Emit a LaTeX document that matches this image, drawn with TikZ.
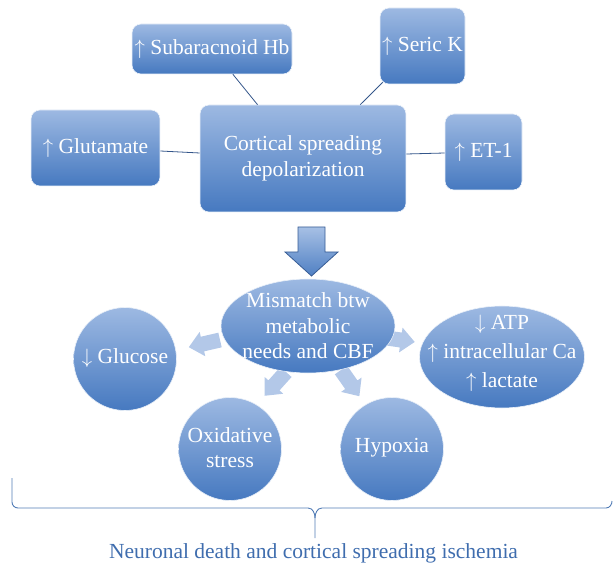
\documentclass[tikz,border=0pt]{standalone}
\usepackage{fontspec}
\setmainfont{Liberation Serif}
\usetikzlibrary{shapes.geometric,calc}
\definecolor{gtop}{HTML}{9DB9E2}
\definecolor{gbot}{HTML}{4679C0}
\definecolor{edgec}{HTML}{34568A}
\definecolor{bluetext}{HTML}{3F6DAE}
\definecolor{lightarr}{HTML}{B3C8E8}
\newcommand{\upar}{$\uparrow$\ }
\newcommand{\dnar}{$\downarrow$\ }
\tikzset{
  grad/.style={top color=gtop, bottom color=gbot, draw=white!80!gtop, line width=0.6pt, inner sep=0pt},
  txt/.style={text=white, align=center, inner sep=0pt, font=\fontsize{21.5}{25.5}\selectfont},
  boxnode/.style={grad, txt, rectangle, rounded corners=9pt},
  ellnode/.style={grad, ellipse},
  circnode/.style={grad, circle},
  link/.style={draw=edgec, line width=0.8pt},
  pics/blockarrow/.style={code={
    \fill[lightarr] (0,-7.5) -- (18,-7.5) -- (18,-12.5) -- (32,0) -- (18,12.5) -- (18,7.5) -- (0,7.5) -- cycle;}}
}
\begin{document}
\begin{tikzpicture}[x=1pt,y=-1pt]
\useasboundingbox (0,0) rectangle (613,569);

% top boxes
\node[boxnode, minimum width=160pt, minimum height=50pt] (sub) at (212,49) {\upar Subaracnoid Hb};
\node[boxnode, minimum width=85pt, minimum height=76pt] (seric) at (422.5,46) {\upar Seric K};
\node[boxnode, minimum width=129pt, minimum height=76pt] (glu) at (95.5,148) {\upar Glutamate};
\node[boxnode, minimum width=206pt, minimum height=107pt] (csd) at (303,158.5) {Cortical spreading\\depolarization};
\node[boxnode, minimum width=77pt, minimum height=76pt] (et) at (483.5,152) {\upar ET-1};

% connectors
\draw[link] ($(sub.south west)!0.63!(sub.south east)$) -- ($(csd.north west)!0.28!(csd.north east)$);
\draw[link] ($(seric.south west)+(3,-2)$) -- ($(csd.north west)!0.777!(csd.north east)$);
\draw[link] ($(glu.east)+(0,3)$) -- ($(csd.west)+(0,-5.5)$);
\draw[link] ($(csd.east)+(0,-4.5)$) -- ($(et.west)+(0,1)$);

% big arrow
\draw[top color=gtop!90, bottom color=gbot!95, draw=edgec!80!gbot, line width=0.8pt]
  (298,227) -- (325,227) -- (325,252) -- (338,252) -- (311.5,276) -- (285,252) -- (298,252) -- cycle;

% small arrows
\pic[rotate=193] at (220,340) {blockarrow};
\pic[rotate=-8] at (383,337.5) {blockarrow};
\pic[rotate=228] at (286,372) {blockarrow};
\pic[rotate=-55] at (341,370) {blockarrow};

% lower nodes (shapes)
\node[ellnode, minimum width=174pt, minimum height=94pt] (mis) at (308,326) {};
\node[circnode, minimum size=103pt] (glc) at (125,359) {};
\node[ellnode, minimum width=165pt, minimum height=102pt] (atp) at (502,357) {};
\node[circnode, minimum size=103pt] (ox) at (230,449) {};
\node[circnode, minimum size=103pt] (hyp) at (392,449) {};
% lower nodes (texts)
\node[txt] (mist) at (mis) {Mismatch btw\\metabolic\\needs and CBF};
\node[txt] (glct) at ($(glc)+(0,-1)$) {\dnar Glucose};
\node[txt] (atpt) at ($(atp)+(0,-4)$) {\dnar ATP\\[3.5pt]\upar intracellular Ca\\[3.5pt]\upar lactate};
\node[txt] (oxt) at ($(ox)+(0,-1.5)$) {Oxidative\\stress};
\node[txt] (hypt) at ($(hyp)+(0,-1)$) {Hypoxia};

% brace
\node[text=bluetext, font=\fontsize{21.5}{25}\selectfont, inner sep=0pt] (res) at (313.5,553) {Neuronal death and cortical spreading ischemia};
\coordinate (bl) at (12,478);
\coordinate (br) at (612,501);
\coordinate (bt) at (315,538);
\draw[draw=bluetext!90, line width=0.9pt]
  (bl) -- (12,502) to[out=-90,in=180] (18,508) -- (308,508) to[out=0,in=90] (bt |- 0,518) -- (bt);
\draw[draw=bluetext!90, line width=0.9pt]
  (bt |- 0,518) to[out=90,in=180] (322,508) -- (606,508) to[out=0,in=-90] (br);
\end{tikzpicture}
\end{document}
